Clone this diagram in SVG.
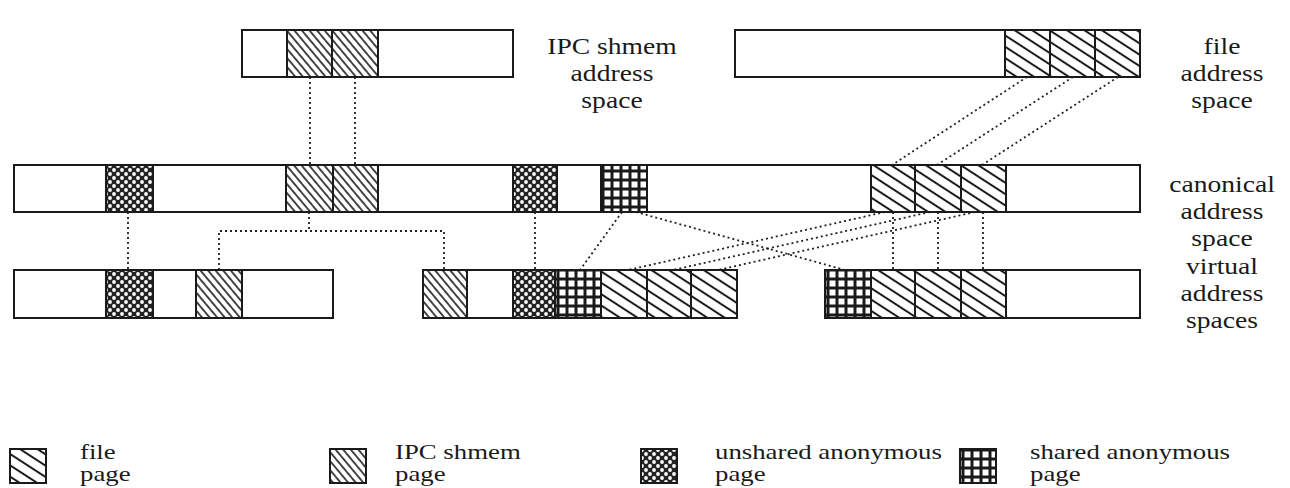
<svg xmlns="http://www.w3.org/2000/svg" width="1290" height="488" viewBox="0 0 1290 488">
<style>
.bar{fill:#fff;stroke:#1a1a1a;stroke-width:2}
.pg{stroke:#1a1a1a;stroke-width:2}
.file{fill:url(#pFile)}
.shm{fill:url(#pShm)}
.uan{fill:url(#pUan)}
.san{fill:url(#pSan)}
.con{fill:none;stroke:#222;stroke-width:1.8;stroke-dasharray:2 3}
.lbl{font-family:"Liberation Serif","Times New Roman",serif;font-size:24px;fill:#1a1a1a;text-anchor:middle}
.leg{font-family:"Liberation Serif","Times New Roman",serif;font-size:20px;fill:#1a1a1a}
</style>
<defs>
<pattern id="pFile" patternUnits="userSpaceOnUse" width="10" height="9.5" patternTransform="rotate(33)">
<rect width="10" height="9.5" fill="#fff"/>
<line x1="0" y1="4.75" x2="10" y2="4.75" stroke="#1a1a1a" stroke-width="2"/>
</pattern>
<pattern id="pShm" patternUnits="userSpaceOnUse" width="10" height="5.8" patternTransform="rotate(50)">
<rect width="10" height="5.8" fill="#fff"/>
<line x1="0" y1="2.9" x2="10" y2="2.9" stroke="#1a1a1a" stroke-width="1.6"/>
</pattern>
<pattern id="pUan" patternUnits="userSpaceOnUse" width="8" height="8">
<rect width="8" height="8" fill="#222"/>
<circle cx="2" cy="2" r="1.9" fill="#fff"/>
<circle cx="6" cy="6" r="1.9" fill="#fff"/>
</pattern>
<pattern id="pSan" patternUnits="userSpaceOnUse" width="9" height="9">
<rect width="9" height="9" fill="#1a1a1a"/>
<rect x="1.5" y="1.5" width="6" height="6" fill="#fff"/>
</pattern>
</defs>

<g id="connectors">
<path class="con" d="M310 77V165M355 77V165"/>
<path class="con" d="M1027 77L892 165M1073 77L937 165M1118 77L982 165"/>
<path class="con" d="M128 212V270"/>
<path class="con" d="M309 212V231M219 270V231H444V270"/>
<path class="con" d="M535 212V270"/>
<path class="con" d="M622 212L580 270M636 212L845 270"/>
<path class="con" d="M885 212L628 270M930 212L673 270M975 212L718 270"/>
<path class="con" d="M893 212V270M938 212V270M983 212V270"/>
</g>

<g id="shmem-space">
<rect class="bar" x="242" y="30" width="271" height="47"/>
<rect class="pg shm" x="287" y="30" width="45" height="47"/>
<rect class="pg shm" x="332" y="30" width="46" height="47"/>
</g>
<g id="shmem-label" class="lbl" transform="translate(612 0) scale(1.15 1)">
<text x="0" y="54">IPC shmem</text>
<text x="0" y="81">address</text>
<text x="0" y="108">space</text>
</g>

<g id="file-space">
<rect class="bar" x="735" y="30" width="405" height="47"/>
<rect class="pg file" x="1005" y="30" width="45" height="47"/>
<rect class="pg file" x="1050" y="30" width="45" height="47"/>
<rect class="pg file" x="1095" y="30" width="45" height="47"/>
</g>

<g id="canonical-space">
<rect class="bar" x="14" y="165" width="1126" height="47"/>
<rect class="pg uan" x="106" y="165" width="47" height="47"/>
<rect class="pg shm" x="286" y="165" width="47" height="47"/>
<rect class="pg shm" x="333" y="165" width="45" height="47"/>
<rect class="pg uan" x="513" y="165" width="44" height="47"/>
<rect class="pg san" x="601" y="165" width="46" height="47"/>
<rect class="pg file" x="871" y="165" width="44" height="47"/>
<rect class="pg file" x="915" y="165" width="46" height="47"/>
<rect class="pg file" x="961" y="165" width="45" height="47"/>
</g>

<g id="virtual-space-1">
<rect class="bar" x="14" y="270" width="319" height="48"/>
<rect class="pg uan" x="106" y="270" width="47" height="48"/>
<rect class="pg shm" x="196" y="270" width="46" height="48"/>
</g>
<g id="virtual-space-2">
<rect class="bar" x="423" y="270" width="314" height="48"/>
<rect class="pg shm" x="423" y="270" width="44" height="48"/>
<rect class="pg uan" x="513" y="270" width="42" height="48"/>
<rect class="pg san" x="555" y="270" width="46" height="48"/>
<rect class="pg file" x="601" y="270" width="46" height="48"/>
<rect class="pg file" x="647" y="270" width="44" height="48"/>
<rect class="pg file" x="691" y="270" width="46" height="48"/>
</g>
<g id="virtual-space-3">
<rect class="bar" x="825" y="270" width="315" height="48"/>
<rect class="pg san" x="825" y="270" width="46" height="48"/>
<rect class="pg file" x="871" y="270" width="44" height="48"/>
<rect class="pg file" x="915" y="270" width="46" height="48"/>
<rect class="pg file" x="961" y="270" width="45" height="48"/>
</g>

<g id="row-labels" class="lbl" transform="translate(1222 0) scale(1.15 1)">
<text x="0" y="54">file</text>
<text x="0" y="81">address</text>
<text x="0" y="108">space</text>
<text x="0" y="192">canonical</text>
<text x="0" y="219">address</text>
<text x="0" y="246">space</text>
<text x="0" y="274">virtual</text>
<text x="0" y="301">address</text>
<text x="0" y="328">spaces</text>
</g>

<g id="legend-file">
<rect class="pg file" x="10" y="449" width="36" height="34"/>
<g class="leg" transform="translate(80 0) scale(1.34 1)">
<text x="0" y="459">file</text>
<text x="0" y="481">page</text>
</g>
</g>
<g id="legend-shmem">
<rect class="pg shm" x="330" y="449" width="36" height="34"/>
<g class="leg" transform="translate(395 0) scale(1.34 1)">
<text x="0" y="459">IPC shmem</text>
<text x="0" y="481">page</text>
</g>
</g>
<g id="legend-unshared">
<rect class="pg uan" x="641" y="449" width="36" height="34"/>
<g class="leg" transform="translate(715 0) scale(1.34 1)">
<text x="0" y="459">unshared anonymous</text>
<text x="0" y="481">page</text>
</g>
</g>
<g id="legend-shared">
<rect class="pg san" x="960" y="449" width="36" height="34"/>
<g class="leg" transform="translate(1030 0) scale(1.34 1)">
<text x="0" y="459">shared anonymous</text>
<text x="0" y="481">page</text>
</g>
</g>
</svg>
